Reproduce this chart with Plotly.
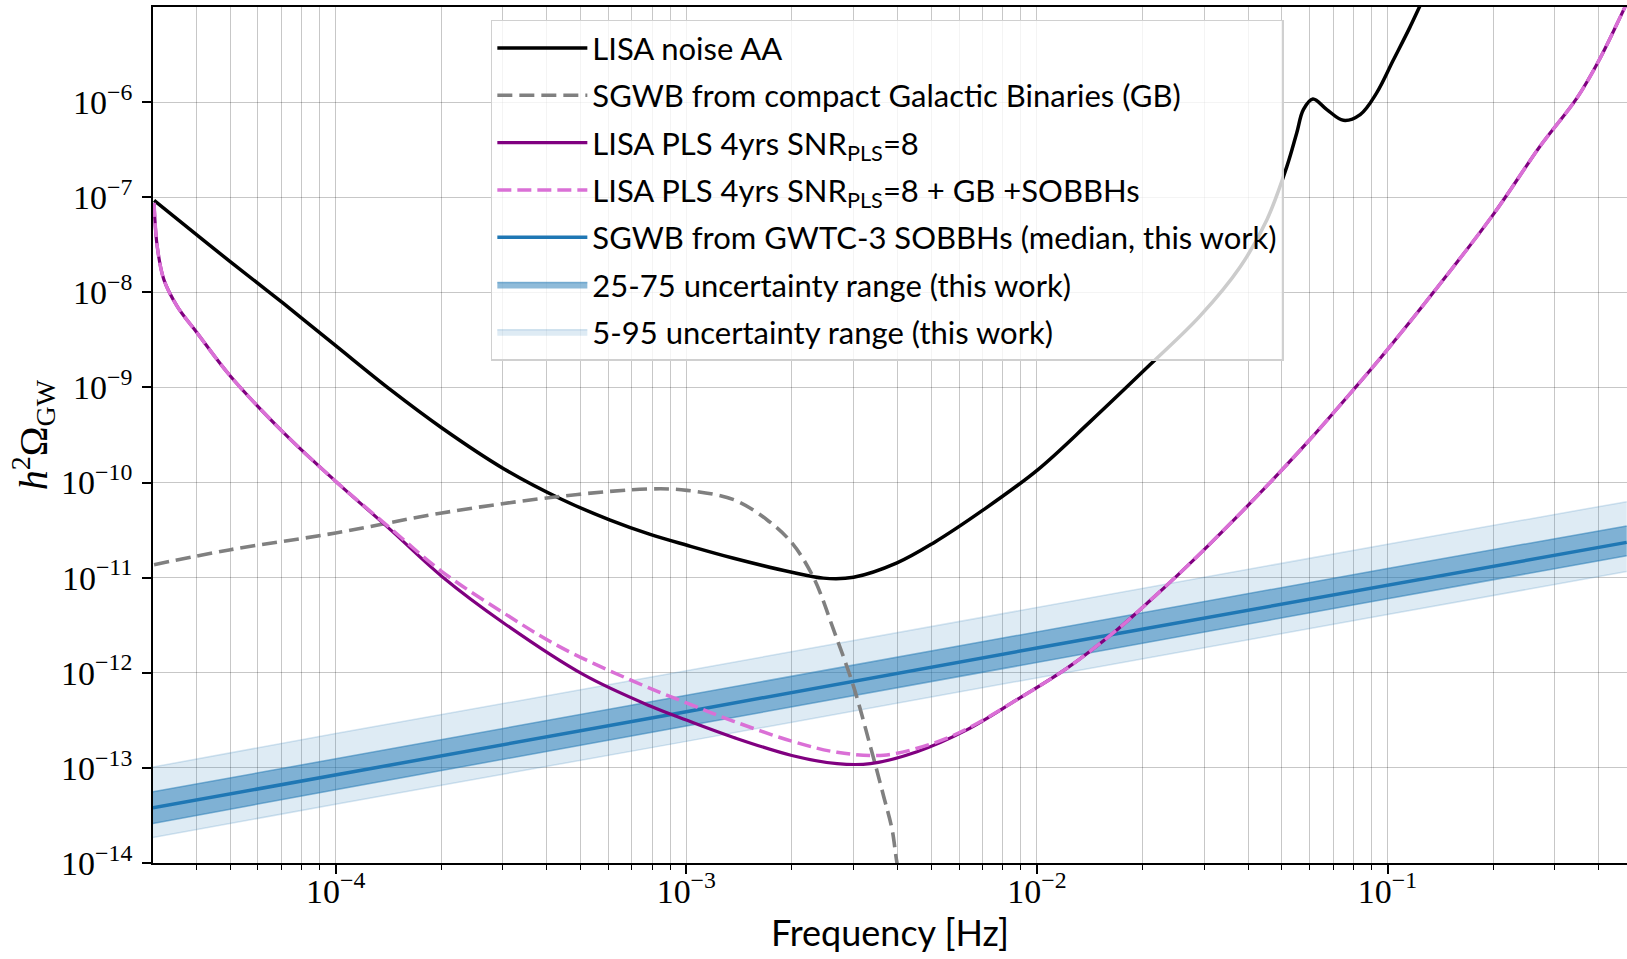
import plotly.graph_objects as go

# ---------------- data ----------------
# LISA noise AA
noise_f = [3.034e-5, 5.012e-5, 7.112e-5, 1.0e-4, 1.432e-4, 2.009e-4, 3.013e-4, 4.375e-4,
           6.067e-4, 7.889e-4, 1.005e-3, 1.365e-3, 2.0e-3, 2.460e-3, 2.999e-3, 3.990e-3,
           5.070e-3, 7.047e-3, 1.007e-2, 1.419e-2, 2.104e-2, 2.917e-2, 3.802e-2, 4.529e-2,
           5.164e-2, 5.508e-2, 5.754e-2, 6.124e-2, 6.714e-2, 7.482e-2, 8.356e-2, 9.311e-2,
           0.1038, 0.1156, 0.1233, 0.1349]
noise_h2omega = [9.27e-8, 2.09e-8, 7.59e-9, 2.75e-9, 9.48e-10, 3.75e-10, 1.40e-10, 6.76e-11,
                 4.03e-11, 2.85e-11, 2.19e-11, 1.60e-11, 1.14e-11, 9.89e-12, 1.01e-11, 1.43e-11,
                 2.32e-11, 5.19e-11, 1.37e-10, 4.37e-10, 1.74e-9, 5.62e-9, 1.86e-8, 5.81e-8,
                 2.11e-7, 4.74e-7, 8.34e-7, 1.08e-6, 8.34e-7, 6.44e-7, 7.40e-7, 1.25e-6,
                 2.75e-6, 6.03e-6, 1.0e-5, 2.04e-5]

# SGWB from compact Galactic Binaries (GB)
gb_f = [3.034e-5, 5.012e-5, 1.0e-4, 2.009e-4, 4.375e-4, 7.889e-4, 1.005e-3, 1.365e-3,
        1.698e-3, 2.0e-3, 2.307e-3, 2.630e-3, 2.999e-3, 3.350e-3, 3.656e-3, 3.864e-3,
        3.99e-3, 4.2e-3]
gb_h2omega = [1.37e-11, 1.97e-11, 2.95e-11, 4.79e-11, 7.16e-11, 8.57e-11, 8.28e-11, 6.61e-11,
              4.07e-11, 2.32e-11, 1.0e-11, 2.84e-12, 7.19e-13, 1.68e-13, 5.01e-14, 2.24e-14,
              1.0e-14, 4.0e-15]

# LISA PLS 4yrs SNR=8
pls_f = [3.034e-5, 3.097e-5, 3.236e-5, 3.532e-5, 4.027e-5, 5.012e-5, 7.112e-5, 1.0e-4,
         1.432e-4, 2.009e-4, 3.013e-4, 5.093e-4, 7.889e-4, 1.005e-3, 1.365e-3, 2.0e-3,
         2.692e-3, 3.350e-3, 4.550e-3, 6.310e-3, 8.770e-3, 1.219e-2, 1.690e-2, 2.104e-2,
         2.897e-2, 4.150e-2, 5.888e-2, 7.998e-2, 0.1, 0.1352, 0.2004, 0.2723, 0.3467,
         0.4036, 0.4645, 0.501]
pls_h2omega = [8.71e-8, 3.05e-8, 1.36e-8, 7.13e-9, 3.74e-9, 1.31e-9, 3.33e-10, 1.03e-10,
               3.20e-11, 1.03e-11, 3.34e-12, 9.55e-13, 4.47e-13, 3.16e-13, 2.09e-13, 1.35e-13,
               1.109e-13, 1.109e-13, 1.48e-13, 2.51e-13, 5.21e-13, 1.12e-12, 2.82e-12, 5.75e-12,
               1.74e-11, 6.61e-11, 2.61e-10, 9.48e-10, 2.51e-9, 1.0e-8, 6.61e-8, 3.43e-7, 1.10e-6,
               2.88e-6, 8.32e-6, 1.51e-5]

# LISA PLS 4yrs SNR=8 + GB + SOBBHs
plsfg_f = [3.034e-5, 3.097e-5, 3.236e-5, 3.532e-5, 4.027e-5, 5.012e-5, 7.112e-5, 1.0e-4,
           1.432e-4, 2.009e-4, 3.013e-4, 4.375e-4, 7.079e-4, 1.005e-3, 1.365e-3, 2.0e-3,
           2.692e-3, 3.656e-3, 5.070e-3, 6.310e-3, 8.770e-3, 1.219e-2, 1.690e-2, 2.104e-2,
           2.897e-2, 4.150e-2, 5.888e-2, 7.998e-2, 0.1, 0.1352, 0.2004, 0.2723, 0.3467,
           0.4036, 0.4645, 0.501]
plsfg_h2omega = [8.71e-8, 3.05e-8, 1.36e-8, 7.13e-9, 3.74e-9, 1.31e-9, 3.33e-10, 1.03e-10,
                 3.31e-11, 1.16e-11, 4.26e-12, 1.86e-12, 8.13e-13, 4.79e-13, 3.09e-13, 1.91e-13,
                 1.46e-13, 1.36e-13, 1.82e-13, 2.57e-13, 5.21e-13, 1.12e-12, 2.82e-12, 5.75e-12,
                 1.74e-11, 6.61e-11, 2.61e-10, 9.48e-10, 2.51e-9, 1.0e-8, 6.61e-8, 3.43e-7, 1.10e-6,
                 2.88e-6, 8.32e-6, 1.51e-5]

# SGWB from GWTC-3 SOBBHs
sobbh_f = [3.01e-5, 1.0e-4, 1.0e-3, 1.0e-2, 1.0e-1, 0.481]
sobbh_median = [3.80e-14, 8.5e-14, 3.9e-13, 1.82e-12, 8.3e-12, 2.35e-11]
sobbh_p25 = [2.6e-14, 5.9e-14, 2.75e-13, 1.29e-12, 6.0e-12, 1.7e-11]
sobbh_p75 = [5.6e-14, 1.25e-13, 5.8e-13, 2.7e-12, 1.25e-11, 3.5e-11]
sobbh_p05 = [1.85e-14, 4.15e-14, 1.9e-13, 8.9e-13, 4.1e-12, 1.16e-11]
sobbh_p95 = [1.02e-13, 2.3e-13, 1.05e-12, 4.9e-12, 2.25e-11, 6.3e-11]

x_major = [1e-4, 1e-3, 1e-2, 1e-1]
x_major_text = ["10<sup>−4</sup>", "10<sup>−3</sup>", "10<sup>−2</sup>", "10<sup>−1</sup>"]
y_major = [1e-14, 1e-13, 1e-12, 1e-11, 1e-10, 1e-9, 1e-8, 1e-7, 1e-6]
y_major_text = ["10<sup>−%d</sup>" % k for k in range(14, 5, -1)]

# minor x ticks (2..9 x each decade) inside the visible range
x_minor = [k * 10.0 ** d for d in range(-5, 0) for k in range(2, 10)
           if 3.02e-5 < k * 10.0 ** d < 0.48]

# ---------------- figure ----------------
BLUE = "#1f77b4"
SM = 1.0
fig = go.Figure()

# 5-95 band
fig.add_trace(go.Scatter(x=sobbh_f, y=sobbh_p05, mode="lines",
                         line=dict(color="rgba(31,119,180,0.18)", width=1.5),
                         showlegend=False, hoverinfo="skip"))
fig.add_trace(go.Scatter(x=sobbh_f, y=sobbh_p95, mode="lines", fill="tonexty",
                         fillcolor="rgba(31,119,180,0.15)",
                         line=dict(color="rgba(31,119,180,0.18)", width=1.5),
                         name="5-95 uncertainty range (this work)",
                         legendrank=7, legendgroup="g7"))
# 25-75 band
fig.add_trace(go.Scatter(x=sobbh_f, y=sobbh_p25, mode="lines",
                         line=dict(color="rgba(31,119,180,0.5)", width=1.5),
                         showlegend=False, hoverinfo="skip"))
fig.add_trace(go.Scatter(x=sobbh_f, y=sobbh_p75, mode="lines", fill="tonexty",
                         fillcolor="rgba(31,119,180,0.5)",
                         line=dict(color="rgba(31,119,180,0.5)", width=1.5),
                         name="25-75 uncertainty range (this work)",
                         legendrank=6, legendgroup="g6"))
# median
fig.add_trace(go.Scatter(x=sobbh_f, y=sobbh_median, mode="lines",
                         line=dict(color=BLUE, width=3.5),
                         name="SGWB from GWTC-3 SOBBHs (median, this work)",
                         legendrank=5, legendgroup="g5"))
# LISA noise
fig.add_trace(go.Scatter(x=noise_f, y=noise_h2omega, mode="lines",
                         line=dict(color="black", width=3.5, shape="spline", smoothing=SM),
                         name="LISA noise AA", legendrank=1, legendgroup="g1"))
# GB
fig.add_trace(go.Scatter(x=gb_f, y=gb_h2omega, mode="lines",
                         line=dict(color="gray", width=3.6, dash="15px,7px",
                                   shape="spline", smoothing=SM),
                         name="SGWB from compact Galactic Binaries (GB)",
                         legendrank=2, legendgroup="g2"))
# PLS
fig.add_trace(go.Scatter(x=pls_f, y=pls_h2omega, mode="lines",
                         line=dict(color="purple", width=3.2, shape="spline", smoothing=SM),
                         name="LISA PLS 4yrs SNR<sub>PLS</sub>=8",
                         legendrank=3, legendgroup="g3"))
fig.add_trace(go.Scatter(x=plsfg_f, y=plsfg_h2omega, mode="lines",
                         line=dict(color="orchid", width=3.5, dash="14px,6px",
                                   shape="spline", smoothing=SM),
                         name="LISA PLS 4yrs SNR<sub>PLS</sub>=8 + GB +SOBBHs",
                         legendrank=4, legendgroup="g4"))

GRID = "rgba(0,0,0,0.22)"
fig.update_layout(
    width=1627, height=959,
    margin=dict(l=153, r=0, t=7, b=96, pad=0),
    paper_bgcolor="white", plot_bgcolor="white",
    font=dict(family="Liberation Serif", size=30, color="black"),
    legend=dict(x=0.2292, y=0.985, xanchor="left", yanchor="top",
                bgcolor="rgba(255,255,255,0.8)", bordercolor="#d0d0d0", borderwidth=1.5,
                font=dict(family="Lato", size=31, color="black"),
                tracegroupgap=4, itemwidth=90, traceorder="grouped"),
    xaxis=dict(type="log", range=[-4.521, -0.317], automargin=False,
               tickmode="array", tickvals=x_major, ticktext=x_major_text,
               ticks="outside", ticklen=9, tickwidth=1.5, tickcolor="black",
               ticklabelstandoff=-12,
               showgrid=True, gridcolor=GRID, gridwidth=1,
               showline=True, linecolor="black", linewidth=1.8, mirror=True,
               zeroline=False,
               tickfont=dict(family="Liberation Serif", size=34),
               minor=dict(tickmode="array", tickvals=x_minor, ticks="outside", ticklen=5,
                          tickwidth=1.2, tickcolor="black",
                          showgrid=True, gridcolor=GRID, gridwidth=1),
               title=dict(text="Frequency [Hz]", font=dict(family="Lato", size=36),
                          standoff=2)),
    yaxis=dict(type="log", range=[-14, -5], automargin=False,
               tickmode="array", tickvals=y_major, ticktext=y_major_text,
               ticks="outside", ticklen=9, tickwidth=1.5, tickcolor="black",
               ticklabelstandoff=3,
               showgrid=True, gridcolor=GRID, gridwidth=1,
               showline=True, linecolor="black", linewidth=1.8, mirror=False,
               zeroline=False,
               tickfont=dict(family="Liberation Serif", size=34),
               title=dict(text="<i>h</i><sup>2</sup>Ω<sub>GW</sub>",
                          font=dict(family="Liberation Serif", size=40), standoff=0)),
)

# remove the default 8px page margin so the figure fills the window exactly
fig.write_html("out.html",
               config={"displayModeBar": False},
               post_script="document.body.style.margin='0px';"
                           "document.body.style.overflow='hidden';")
